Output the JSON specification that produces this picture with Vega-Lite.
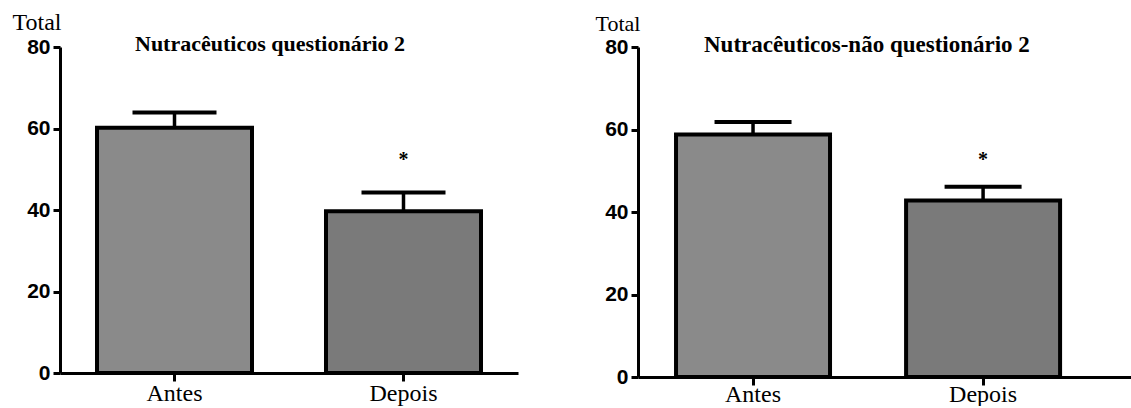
{
  "$schema": "https://vega.github.io/schema/vega-lite/v6.json",
  "background": "white",
  "padding": {"left": 12, "top": 10, "right": 0, "bottom": 0},
  "spacing": 77,
  "config": {
    "view": {"stroke": null},
    "axis": {"grid": false, "domainColor": "black", "domainWidth": 3, "tickColor": "black", "tickWidth": 3, "labelColor": "black", "titleColor": "black"},
    "axisY": {"labelFont": "Liberation Sans", "labelFontWeight": "bold", "labelFontSize": 21, "tickSize": 7, "labelPadding": 3},
    "axisX": {"labelFont": "Liberation Serif", "labelFontSize": 24, "labelFontWeight": "normal", "tickSize": 8, "labelAngle": 0, "labelBaseline": "alphabetic"}
  },
  "datasets": {
    "q2": [
      {"grupo": "Antes", "media": 60.2, "erro": 3.7, "sig": "", "sig_y": 0},
      {"grupo": "Depois", "media": 39.7, "erro": 4.6, "sig": "*", "sig_y": 52.3}
    ],
    "nq2": [
      {"grupo": "Antes", "media": 58.8, "erro": 3.0, "sig": "", "sig_y": 0},
      {"grupo": "Depois", "media": 42.8, "erro": 3.3, "sig": "*", "sig_y": 52.5}
    ]
  },
  "hconcat": [
    {
      "width": 458,
      "height": 326,
      "data": {"name": "q2"},
      "title": {"text": "Nutracêuticos questionário 2", "font": "Liberation Serif", "fontSize": 22, "fontWeight": "bold", "color": "black", "anchor": "start", "frame": "group", "dx": 75, "dy": 30, "offset": -33, "baseline": "alphabetic"},
      "encoding": {
        "x": {"field": "grupo", "type": "nominal", "sort": ["Antes", "Depois"], "scale": {"paddingInner": 0, "paddingOuter": 0}, "axis": {"title": null, "labelPadding": 19}}
      },
      "layer": [
        {
          "mark": {"type": "rule", "color": "black", "strokeWidth": 3.5},
          "encoding": {
            "y": {"field": "media", "type": "quantitative"},
            "y2": {"field": "topo"}
          },
          "transform": [{"calculate": "datum.media + datum.erro", "as": "topo"}]
        },
        {
          "mark": {"type": "tick", "color": "black", "opacity": 1, "thickness": 4, "size": 84},
          "encoding": {
            "y": {"field": "topo", "type": "quantitative"}
          },
          "transform": [{"calculate": "datum.media + datum.erro", "as": "topo"}]
        },
        {
          "mark": {"type": "bar", "width": 155, "stroke": "black", "strokeWidth": 4},
          "encoding": {
            "y": {"field": "media", "type": "quantitative", "scale": {"domain": [0, 80]}, "axis": {"values": [0, 20, 40, 60, 80], "title": "Total", "titleAngle": 0, "titleFont": "Liberation Serif", "titleFontWeight": "normal", "titleFontSize": 24, "titleAlign": "right", "titleBaseline": "alphabetic", "titleX": 1, "titleY": -18}},
            "fill": {"field": "grupo", "type": "nominal", "scale": {"domain": ["Antes", "Depois"], "range": ["#8a8a8a", "#7a7a7a"]}, "legend": null}
          }
        },
        {
          "mark": {"type": "text", "font": "Liberation Serif", "fontSize": 20, "fontWeight": "bold", "color": "black", "baseline": "middle"},
          "encoding": {
            "y": {"field": "sig_y", "type": "quantitative"},
            "text": {"field": "sig"}
          }
        }
      ]
    },
    {
      "width": 496,
      "height": 330,
      "data": {"name": "nq2"},
      "title": {"text": "Nutracêuticos-não questionário 2", "font": "Liberation Serif", "fontSize": 23, "fontWeight": "bold", "color": "black", "anchor": "start", "frame": "group", "dx": 66, "dy": 30, "offset": -33, "baseline": "alphabetic"},
      "encoding": {
        "x": {"field": "grupo", "type": "nominal", "sort": ["Antes", "Depois"], "scale": {"paddingInner": 0, "paddingOuter": 0.078, "align": 0}, "axis": {"title": null, "labelPadding": 16, "encode": {"labels": {"update": {"dy": {"signal": "datum.value === 'Antes' ? 5 : 0"}}}}}}
      },
      "layer": [
        {
          "mark": {"type": "rule", "color": "black", "strokeWidth": 3.5},
          "encoding": {
            "y": {"field": "media", "type": "quantitative"},
            "y2": {"field": "topo"}
          },
          "transform": [{"calculate": "datum.media + datum.erro", "as": "topo"}]
        },
        {
          "mark": {"type": "tick", "color": "black", "opacity": 1, "thickness": 4, "size": 77},
          "encoding": {
            "y": {"field": "topo", "type": "quantitative"}
          },
          "transform": [{"calculate": "datum.media + datum.erro", "as": "topo"}]
        },
        {
          "mark": {"type": "bar", "width": 154, "stroke": "black", "strokeWidth": 4},
          "encoding": {
            "y": {"field": "media", "type": "quantitative", "scale": {"domain": [0, 80]}, "axis": {"values": [0, 20, 40, 60, 80], "title": "Total", "titleAngle": 0, "titleFont": "Liberation Serif", "titleFontWeight": "normal", "titleFontSize": 22, "titleAlign": "right", "titleBaseline": "alphabetic", "titleX": 2, "titleY": -17}},
            "fill": {"field": "grupo", "type": "nominal", "scale": {"domain": ["Antes", "Depois"], "range": ["#8a8a8a", "#7a7a7a"]}, "legend": null}
          }
        },
        {
          "mark": {"type": "text", "font": "Liberation Serif", "fontSize": 20, "fontWeight": "bold", "color": "black", "baseline": "middle"},
          "encoding": {
            "y": {"field": "sig_y", "type": "quantitative"},
            "text": {"field": "sig"}
          }
        }
      ]
    }
  ]
}
